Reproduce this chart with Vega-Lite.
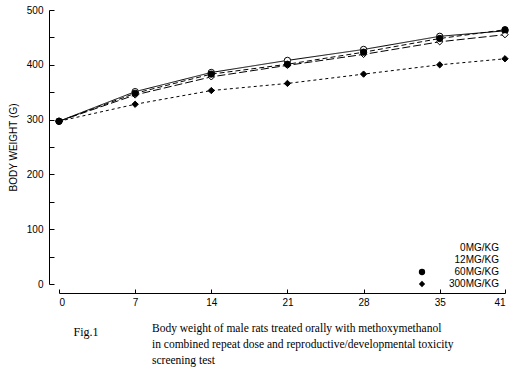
{
  "$schema": "https://vega.github.io/schema/vega-lite/v6.json",
  "width": 446,
  "height": 274,
  "autosize": "none",
  "padding": {"left": 59, "top": 10, "right": 13, "bottom": 92},
  "background": "white",
  "config": {
    "view": {"stroke": null},
    "axis": {"labelFont": "Liberation Sans", "labelFontSize": 10, "labelColor": "black", "domainColor": "black", "tickColor": "black", "grid": false, "titleFont": "Liberation Sans", "titleFontWeight": "normal", "titleColor": "black", "titleFontSize": 10},
    "legend": {"labelFont": "Liberation Sans", "labelFontSize": 10, "labelColor": "black"}
  },
  "title": {
    "text": ["Body weight of male rats treated orally with methoxymethanol", "in combined repeat dose and reproductive/developmental toxicity", "screening test"],
    "orient": "bottom",
    "anchor": "start",
    "frame": "group",
    "dx": 93,
    "offset": -14,
    "font": "Liberation Serif",
    "fontSize": 11.5,
    "fontWeight": "normal",
    "color": "black",
    "lineHeight": 16,
    "baseline": "top"
  },
  "data": {
    "values": [
      {"group": "0MG/KG", "day": 0, "weight": 297},
      {"group": "0MG/KG", "day": 7, "weight": 351},
      {"group": "0MG/KG", "day": 14, "weight": 386},
      {"group": "0MG/KG", "day": 21, "weight": 408},
      {"group": "0MG/KG", "day": 28, "weight": 428},
      {"group": "0MG/KG", "day": 35, "weight": 452},
      {"group": "0MG/KG", "day": 41, "weight": 462},
      {"group": "12MG/KG", "day": 0, "weight": 297},
      {"group": "12MG/KG", "day": 7, "weight": 345},
      {"group": "12MG/KG", "day": 14, "weight": 378},
      {"group": "12MG/KG", "day": 21, "weight": 399},
      {"group": "12MG/KG", "day": 28, "weight": 419},
      {"group": "12MG/KG", "day": 35, "weight": 442},
      {"group": "12MG/KG", "day": 41, "weight": 455},
      {"group": "60MG/KG", "day": 0, "weight": 297},
      {"group": "60MG/KG", "day": 7, "weight": 348},
      {"group": "60MG/KG", "day": 14, "weight": 383},
      {"group": "60MG/KG", "day": 21, "weight": 401},
      {"group": "60MG/KG", "day": 28, "weight": 423},
      {"group": "60MG/KG", "day": 35, "weight": 448},
      {"group": "60MG/KG", "day": 41, "weight": 464},
      {"group": "300MG/KG", "day": 0, "weight": 297},
      {"group": "300MG/KG", "day": 7, "weight": 328},
      {"group": "300MG/KG", "day": 14, "weight": 353},
      {"group": "300MG/KG", "day": 21, "weight": 366},
      {"group": "300MG/KG", "day": 28, "weight": 383},
      {"group": "300MG/KG", "day": 35, "weight": 400},
      {"group": "300MG/KG", "day": 41, "weight": 411}
    ]
  },
  "encoding": {
    "x": {
      "field": "day", "type": "quantitative",
      "scale": {"domain": [0, 41], "nice": false, "zero": false},
      "axis": {"values": [0, 7, 14, 21, 28, 35, 41], "offset": 9, "tickSize": -4, "labelPadding": 8, "title": "Fig.1", "titleFont": "Liberation Serif", "titleFontSize": 12, "titleX": 14, "titleY": 33, "titleAlign": "left", "titleAnchor": null, "titleBaseline": "top"}
    },
    "y": {
      "field": "weight", "type": "quantitative",
      "scale": {"domain": [0, 500], "nice": false},
      "axis": {"values": [0, 50, 100, 150, 200, 250, 300, 350, 400, 450, 500], "labelExpr": "datum.value % 100 == 0 ? datum.label : ''", "offset": 10, "tickSize": -5, "labelPadding": 11, "title": "BODY WEIGHT (G)", "titlePadding": 8}
    }
  },
  "layer": [
    {
      "mark": {"type": "line", "color": "black", "strokeWidth": 1},
      "encoding": {
        "strokeDash": {
          "field": "group", "type": "nominal",
          "scale": {"domain": ["300MG/KG", "60MG/KG", "12MG/KG", "0MG/KG"], "range": [[3, 3], [5, 3], [8, 3], [1, 0]]},
          "legend": null
        }
      }
    },
    {
      "mark": {"type": "point", "filled": false, "stroke": "black", "strokeWidth": 1, "size": 40, "opacity": 1},
      "encoding": {
        "shape": {
          "field": "group", "type": "nominal",
          "scale": {"domain": ["0MG/KG", "12MG/KG", "60MG/KG", "300MG/KG"], "range": ["circle", "diamond", "circle", "diamond"]},
          "legend": {
            "title": null,
            "orient": "none",
            "legendX": 358,
            "legendY": 233,
            "symbolSize": 40,
            "symbolStrokeColor": "black",
            "symbolStrokeWidth": 1,
            "rowPadding": 0,
            "labelAlign": "right",
            "labelOffset": 72,
            "labelLimit": 100
          }
        },
        "fill": {
          "field": "group", "type": "nominal",
          "scale": {"domain": ["0MG/KG", "12MG/KG", "60MG/KG", "300MG/KG"], "range": ["white", "white", "black", "black"]},
          "legend": {
            "title": null,
            "orient": "none",
            "legendX": 358,
            "legendY": 233,
            "symbolSize": 40,
            "symbolStrokeColor": "black",
            "symbolStrokeWidth": 1,
            "rowPadding": 0,
            "labelAlign": "right",
            "labelOffset": 72,
            "labelLimit": 100
          }
        }
      }
    }
  ]
}
